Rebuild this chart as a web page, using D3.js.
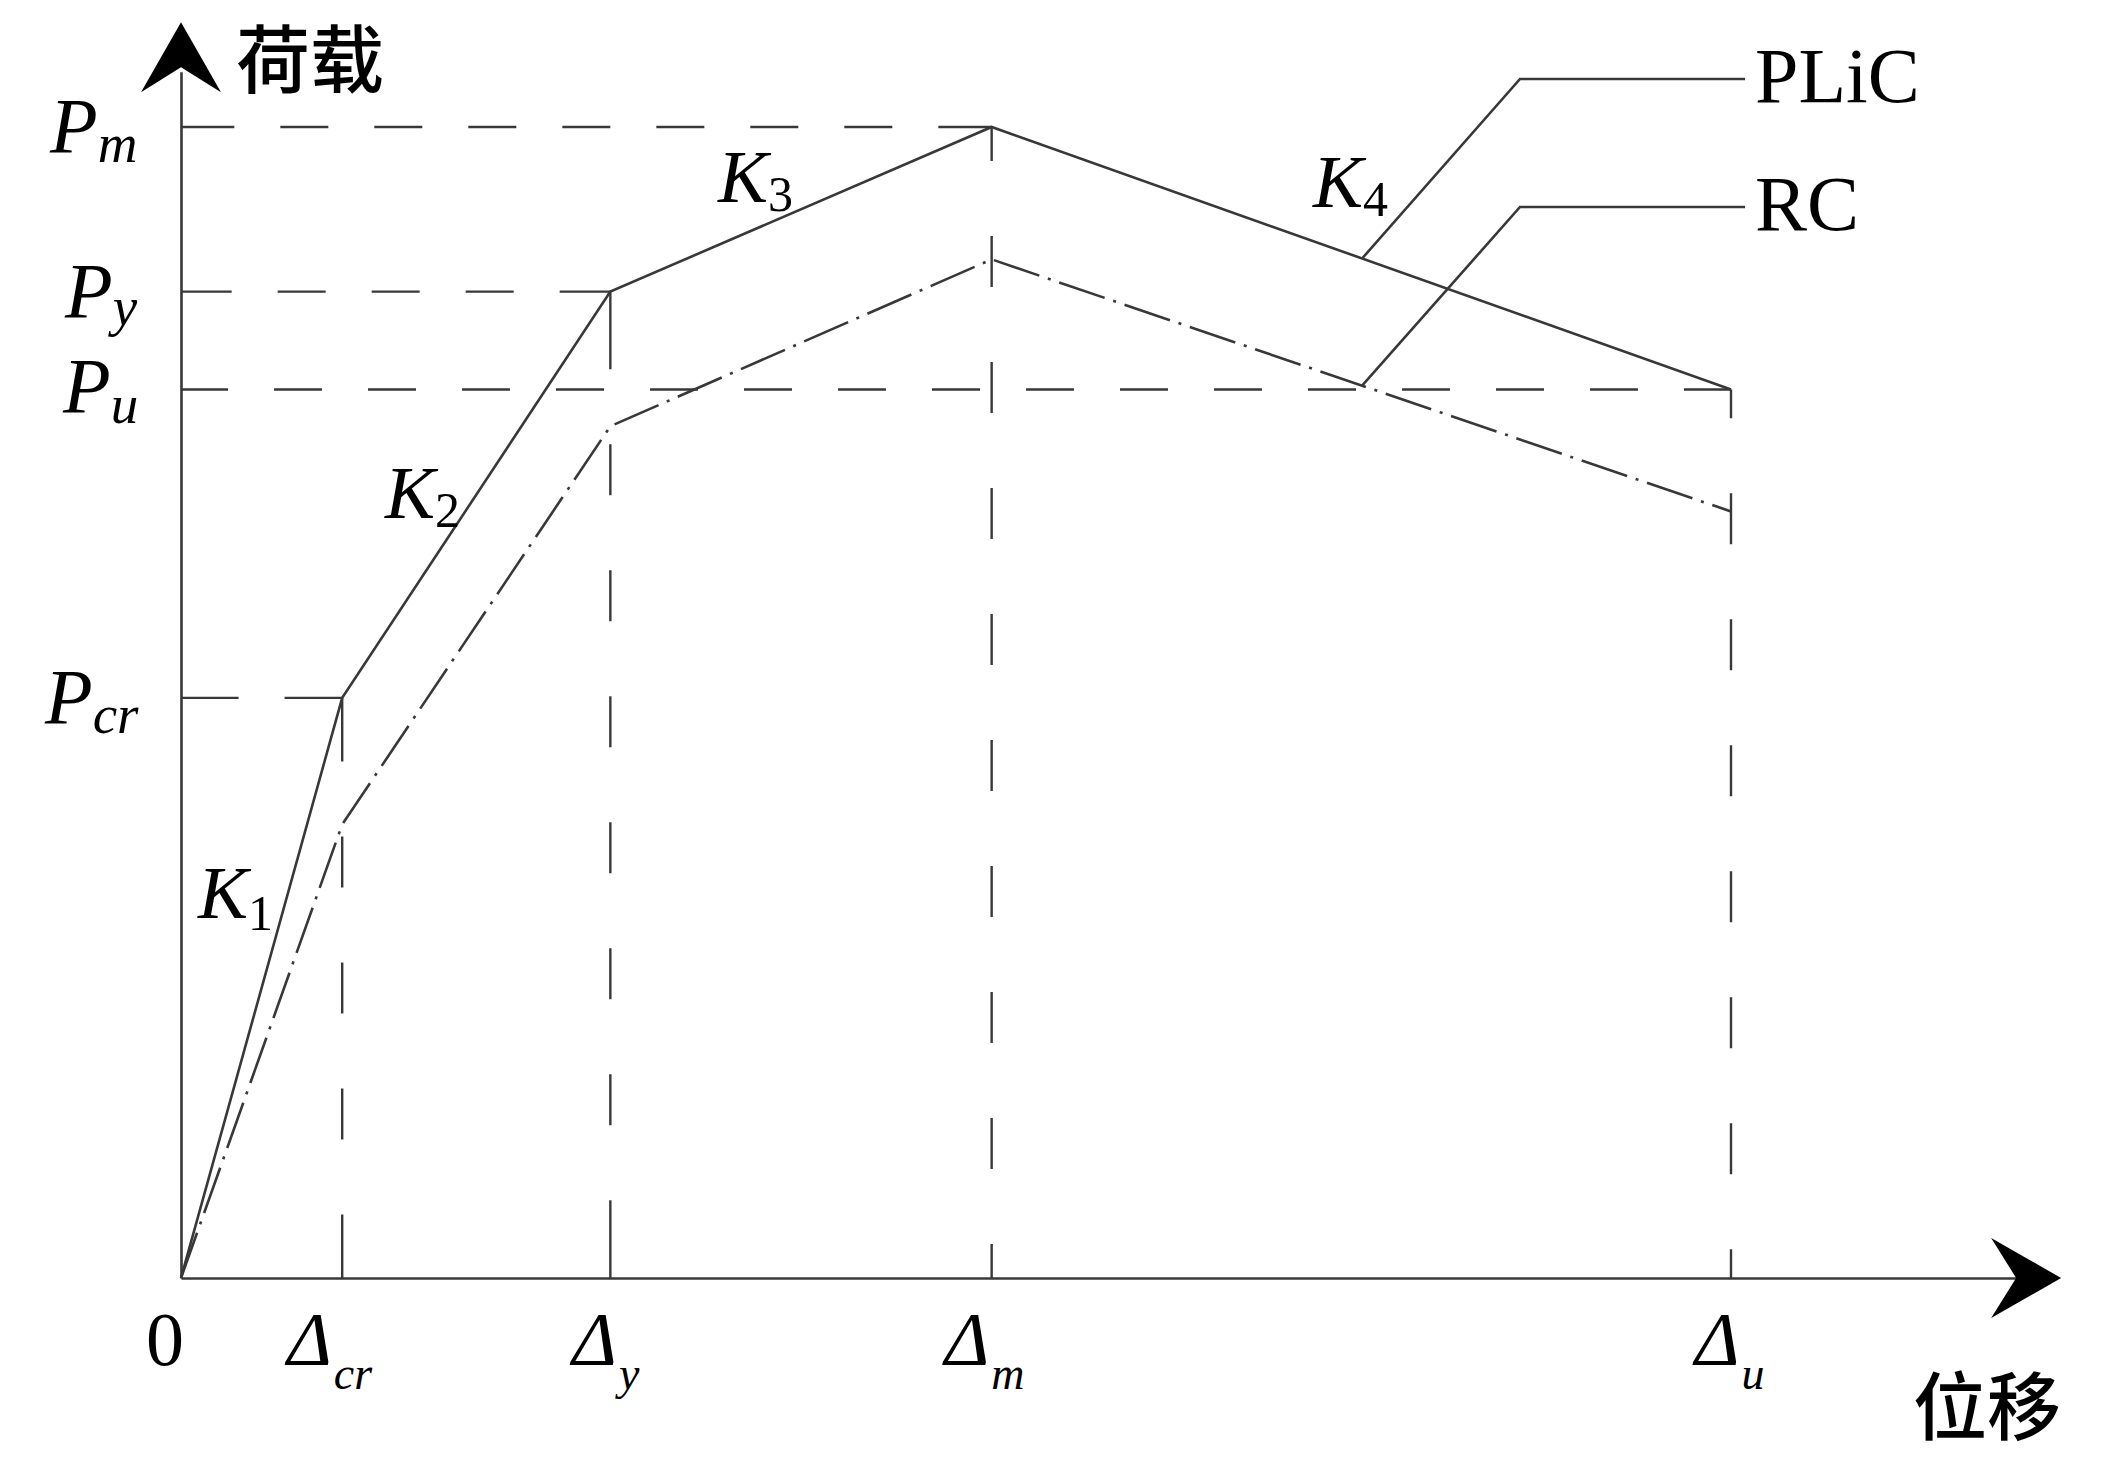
<!DOCTYPE html>
<html>
<head>
<meta charset="utf-8">
<script src="https://cdn.jsdelivr.net/npm/d3@7"></script>
<style>
  body { margin: 0; background: #ffffff; }
  svg { display: block; }
  .serif { font-family: "Liberation Serif", "Times New Roman", serif; fill: #000; }
  .cjk { font-family: "Noto Sans CJK SC", sans-serif; font-weight: 500; fill: #000; }
</style>
</head>
<body>
<svg id="chart" width="2110" height="1484"></svg>
<script>
// displacement points (0, Δcr, Δy, Δm, Δu), arbitrary units
var dispKeys = ["0", "cr", "y", "m", "u"];
var dispValues = [0, 10.4, 27.7, 52.3, 100];

// load levels, arbitrary units
var loadKeys = ["cr", "y", "u", "m"];
var loadValues = [50.4, 85.7, 77.2, 100];

// curves, load at each displacement point
var plicLoad = [0, 50.4, 85.7, 100, 77.2];
var rcLoad = [0, 39.4, 74.0, 88.5, 66.6];

var seriesNames = ["PLiC", "RC"];
var stiffnessNames = ["1", "2", "3", "4"];

var width = 2110, height = 1484;
var svg = d3.select("#chart");
svg.append("rect").attr("width", width).attr("height", height).attr("fill", "#ffffff");

var x = d3.scaleLinear().domain([0, 100]).range([181, 1731]);
var y = d3.scaleLinear().domain([0, 100]).range([1278, 127]);
var xAxisEnd = 118.5, xArrowTip = 121.3;
var yAxisEnd = 104.8, yArrowTip = 109.1;

var ink = "#383838";

// dashes that start and finish on a dash, like a CAD linetype
function endDashes(len, dash, gap, emin)
{
    var k = Math.max(0, Math.floor((len - gap - 2 * emin) / (dash + gap)));
    var e = (len - gap - k * (dash + gap)) / 2;
    var arr = [e];
    for (var i = 0; i < k; i++) arr.push(gap, dash);
    arr.push(gap, e, 10000);
    return arr.join(",");
}

// axes
var xAxisScale = x.copy().domain([0, xAxisEnd]).range([x(0), x(xAxisEnd)]);
var yAxisScale = y.copy().domain([0, yAxisEnd]).range([y(0), y(yAxisEnd)]);

var gx = svg.append("g")
    .attr("transform", "translate(0," + y(0) + ")")
    .call(d3.axisBottom(xAxisScale).tickValues([]).tickSizeOuter(0));
var gy = svg.append("g")
    .attr("transform", "translate(" + x(0) + ",0)")
    .call(d3.axisLeft(yAxisScale).tickValues([]).tickSizeOuter(0));
svg.selectAll(".domain").attr("stroke", ink).attr("stroke-width", 2.6);

// arrow heads
var aLen = 70, aHalf = 40, aNotch = 25;
var xt = x(xArrowTip), yt = y(yArrowTip);
svg.append("path")
    .attr("d", "M" + xt + "," + y(0) + " L" + (xt - aLen) + "," + (y(0) - aHalf) +
        " L" + (xt - aLen + aNotch) + "," + y(0) + " L" + (xt - aLen) + "," + (y(0) + aHalf) + "Z")
    .attr("fill", "#000");
svg.append("path")
    .attr("d", "M" + x(0) + "," + yt + " L" + (x(0) - aHalf) + "," + (yt + aLen) +
        " L" + x(0) + "," + (yt + aLen - aNotch) + " L" + (x(0) + aHalf) + "," + (yt + aLen) + "Z")
    .attr("fill", "#000");

// reference lines
var refs = svg.append("g").attr("stroke", ink).attr("stroke-width", 2.4).attr("fill", "none");
for (var i = 1; i < dispValues.length; i++)
{
    var px = x(dispValues[i]), py = y(plicLoad[i]);
    var hl = px - x(0);
    refs.append("line")
        .attr("x1", x(0)).attr("y1", py).attr("x2", px).attr("y2", py)
        .attr("stroke-dasharray", endDashes(hl, 48, 46, 25));
    var vl = y(0) - py;
    refs.append("line")
        .attr("x1", px).attr("y1", py).attr("x2", px).attr("y2", y(0))
        .attr("stroke-dasharray", endDashes(vl, 51, 75, 25));
}

// curves
var line = d3.line()
    .x(function(d) { return x(d[0]); })
    .y(function(d) { return y(d[1]); });

svg.append("path")
    .datum(d3.zip(dispValues, plicLoad))
    .attr("d", line)
    .attr("fill", "none").attr("stroke", ink).attr("stroke-width", 2.6)
    .attr("stroke-linejoin", "miter");

svg.append("path")
    .datum(d3.zip(dispValues, rcLoad))
    .attr("d", line)
    .attr("fill", "none").attr("stroke", ink).attr("stroke-width", 2.6)
    .attr("stroke-dasharray", "48,9,3,9");

// load axis labels
var loadLabelPos = {
    cr: {x: 45, dy: 25, sub: 10},
    y:  {x: 65, dy: 25, sub: 8},
    u:  {x: 63, dy: 23, sub: 11},
    m:  {x: 50, dy: 25, sub: 10}
};
loadKeys.forEach(function(k, i) {
    var p = loadLabelPos[k];
    var t = svg.append("text").attr("class", "serif")
        .attr("x", p.x).attr("y", y(loadValues[i]) + p.dy)
        .style("font-style", "italic");
    t.append("tspan").style("font-size", "78px").text("P");
    t.append("tspan").style("font-size", "55px").attr("dy", p.sub).text(k);
});

// displacement axis labels
var dispLabelOffset = {"0": -16, cr: -55, y: -38, m: -47, u: -36};
dispKeys.forEach(function(k, i) {
    var t = svg.append("text").attr("class", "serif")
        .attr("y", y(0) + 87);
    if (k === "0")
    {
        t.attr("x", x(dispValues[i]) + dispLabelOffset[k])
            .attr("text-anchor", "middle")
            .style("font-size", "76px").text("0");
        return;
    }
    t.attr("x", x(dispValues[i]) + dispLabelOffset[k]).style("font-style", "italic");
    t.append("tspan").style("font-size", "76px").text("\u0394");
    t.append("tspan").style("font-size", "46px").attr("dy", 24).attr("dx", 2).text(k);
});

// stiffness labels
var kPos = [
    {x: 198, y: 918, sub: 12},
    {x: 385, y: 518, sub: 9},
    {x: 718, y: 202, sub: 9},
    {x: 1313, y: 207, sub: 9}
];
stiffnessNames.forEach(function(n, i) {
    var t = svg.append("text").attr("class", "serif")
        .attr("x", kPos[i].x).attr("y", kPos[i].y);
    t.append("tspan").style("font-size", "75px").style("font-style", "italic").text("K");
    t.append("tspan").style("font-size", "50px").attr("dy", kPos[i].sub).text(n);
});

// axis titles
svg.append("text").attr("class", "cjk")
    .attr("x", 236).attr("y", 87)
    .style("font-size", "74px").text("荷载");
svg.append("text").attr("class", "cjk")
    .attr("x", 1913).attr("y", 1434)
    .style("font-size", "74px").text("位移");

// legend leaders
var plicAt = d3.scaleLinear().domain(dispValues).range(plicLoad);
var rcAt = d3.scaleLinear().domain(dispValues).range(rcLoad);
var leaderX = 76.2;
var legend = [
    {name: seriesNames[0], start: y(plicAt(leaderX)), elbowY: 79, textY: 102},
    {name: seriesNames[1], start: y(rcAt(leaderX)), elbowY: 207, textY: 230}
];
legend.forEach(function(d) {
    svg.append("path")
        .attr("d", "M" + x(leaderX) + "," + d.start + " L1520," + d.elbowY + " L1745," + d.elbowY)
        .attr("fill", "none").attr("stroke", ink).attr("stroke-width", 2.6);
    svg.append("text").attr("class", "serif")
        .attr("x", 1755).attr("y", d.textY)
        .style("font-size", "78px").text(d.name);
});
</script>
</body>
</html>
